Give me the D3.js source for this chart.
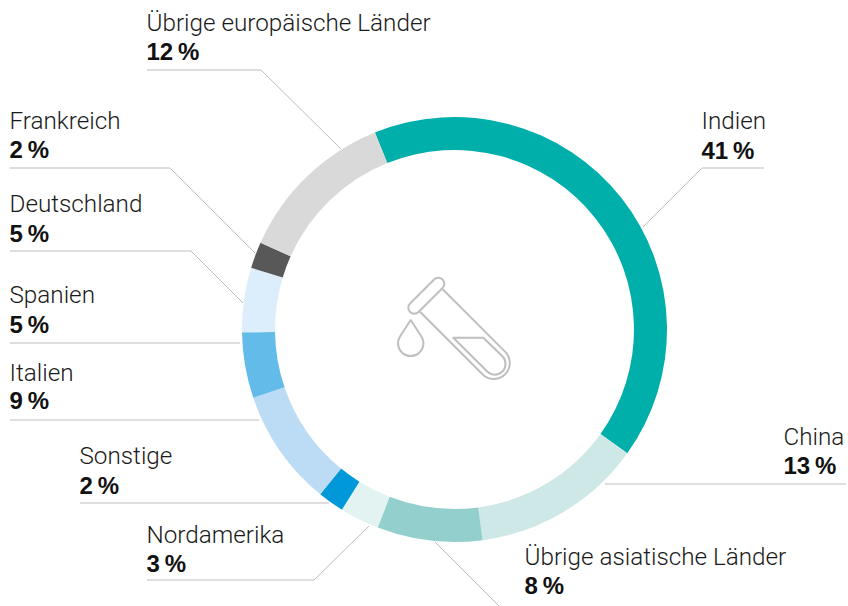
<!DOCTYPE html>
<html>
<head>
<meta charset="utf-8">
<script src="https://cdn.jsdelivr.net/npm/d3@7"></script>
<style>
  html, body { margin: 0; padding: 0; background: #fff; }
  text { fill: #1a1a1a; }
  .name { font-family: Roboto, sans-serif; font-weight: 300; font-size: 24.25px; }
  .pct { font-family: "Liberation Sans", sans-serif; font-weight: 700; font-size: 24px; fill: #111; }
</style>
</head>
<body>
<svg id="chart" width="848" height="606"></svg>
<script>
var categories = ["Indien","China","Übrige asiatische Länder","Nordamerika","Sonstige","Italien","Spanien","Deutschland","Frankreich","Übrige europäische Länder"];
var shares = [41,13,8,3,2,8.9,5,4.9,2,12.2];
var colors = ["#00aeaa","#cde8e6","#93d0cd","#e3f3f1","#0098d8","#bcdcf5","#62bbe9","#dcedfb","#585858","#d9d9d9"];

// label x, baseline of name, baseline of percent, leader line
var labelPos = [
  {x:701.5, y1:129, y2:159, line:[[764,168],[702,168],[643,227]]},
  {x:783.5, y1:445, y2:474, line:[[846,484],[605,484]]},
  {x:524.5, y1:565, y2:594, line:[[435,542],[500,607]]},
  {x:146.5, y1:543, y2:572, line:[[147,580],[314,580],[369,526]]},
  {x:79.5,  y1:464, y2:494, line:[[80,503],[329,503]]},
  {x:9.5,   y1:381, y2:409, line:[[10,420],[259,420]]},
  {x:9.5,   y1:303, y2:333, line:[[10,343],[240,343]]},
  {x:9.5,   y1:212, y2:242, line:[[10,251],[191,251],[243,303]]},
  {x:9.5,   y1:129, y2:158, line:[[10,168],[170,168],[255,253]]},
  {x:146.5, y1:31,  y2:60,  line:[[147,70],[261,70],[341,149]]}
];

var svg = d3.select("#chart");
var cx = 454.5, cy = 329.5;

var pie = d3.pie().sort(null)
  .startAngle(-22 * Math.PI / 180)
  .endAngle(338 * Math.PI / 180);
var arc = d3.arc().innerRadius(179.5).outerRadius(212.5);

svg.append("g")
  .attr("transform", "translate(" + cx + "," + cy + ")")
  .selectAll("path").data(pie(shares)).enter()
  .append("path")
  .attr("d", arc)
  .attr("fill", function(d,i) { return colors[i]; });

var lineFunction = d3.line();
svg.append("g").selectAll("path").data(labelPos).enter()
  .append("path")
  .attr("d", function(d) { return lineFunction(d.line); })
  .attr("fill", "none")
  .attr("stroke", "#bdbdbd")
  .attr("stroke-width", 1);

svg.append("g").selectAll("text").data(categories).enter()
  .append("text")
  .attr("class", "name")
  .attr("x", function(d,i) { return labelPos[i].x; })
  .attr("y", function(d,i) { return labelPos[i].y1; })
  .text(function(d) { return d; });

svg.append("g").selectAll("text").data(shares).enter()
  .append("text")
  .attr("class", "pct")
  .attr("x", function(d,i) { return labelPos[i].x; })
  .attr("y", function(d,i) { return labelPos[i].y2; })
  .text(function(d) { return Math.round(d) + "\u2009%"; });

// test tube icon
var icon = svg.append("g")
  .attr("fill", "none")
  .attr("stroke", "#bfbfbf")
  .attr("stroke-width", 2)
  .attr("stroke-linejoin", "round");
icon.append("path").attr("d", "M420,311.7L483.5,375.2A16,16 0 0 0 506,352.6L442.7,289.3");
icon.append("path").attr("d", "M453.3,337.7H483.3L502.4,356.3A10.7,10.7 0 0 1 487.2,371.5Z");
icon.append("path").attr("d", "M410.7,320L421.4,336.5A12.7,12.7 0 1 1 400,336.5Z");
icon.append("rect")
  .attr("x", -23).attr("y", -6).attr("width", 46).attr("height", 12).attr("rx", 6)
  .attr("transform", "translate(426.3,295.8) rotate(-45)");
</script>
</body>
</html>
